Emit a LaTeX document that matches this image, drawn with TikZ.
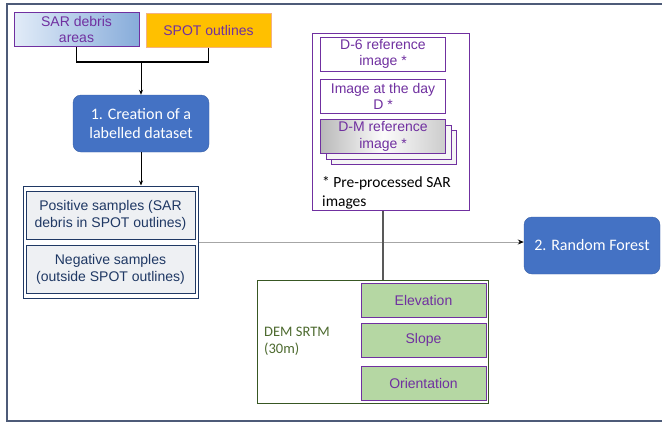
\documentclass[tikz,border=0pt]{standalone}
\usepackage{fontspec}
\setmainfont{Liberation Sans}
\newfontfamily\calibri{Carlito}
\usepackage{xcolor}
\usetikzlibrary{arrows,arrows.meta,positioning,calc}

\definecolor{frameblue}{HTML}{4D5B78}
\definecolor{boxblue}{HTML}{4472C4}
\definecolor{purp}{HTML}{7030A0}
\definecolor{spotorange}{HTML}{FFC000}
\definecolor{spotedge}{HTML}{F4B183}
\definecolor{navy}{HTML}{1F3864}
\definecolor{sampfill}{HTML}{EEF0F3}
\definecolor{demgreen}{HTML}{385723}
\definecolor{demtext}{HTML}{4E6B30}
\definecolor{leaf}{HTML}{B5D7A3}

\begin{document}
\begin{tikzpicture}[x=1pt, y=-1pt,
    src/.style={rectangle, draw=purp, line width=1pt, text=purp,
                minimum width=125pt, minimum height=34pt, align=center,
                font=\fontsize{14}{16.5}\selectfont, inner sep=2pt},
    proc/.style={rectangle, draw=boxblue!85!black, fill=boxblue,
                 rounded corners=8pt, text=white, minimum width=136pt,
                 minimum height=57pt, align=center,
                 font=\calibri\fontsize{16}{18.5}\selectfont},
    samp/.style={rectangle, draw=navy, line width=1pt, fill=sampfill,
                 text=navy, minimum width=169pt, minimum height=48pt,
                 align=center, font=\fontsize{14}{17}\selectfont, inner sep=2pt},
    grp/.style={rectangle, line width=1pt, fill=white},
    layer/.style={src, fill=gray!8},
    leafbox/.style={src, fill=leaf},
  ]
  \useasboundingbox (0,0) rectangle (662,424);

  % Frame
  \draw[frameblue, line width=2.5pt] (690,4) -- (7,4) -- (7,421) -- (690,421);

  % Inputs
  \node[src, left color={rgb,255:red,226;green,236;blue,248},
        right color={rgb,255:red,135;green,172;blue,218}] (sar) at (76.5,29.5) {SAR debris\\areas};
  \node[src, fill=spotorange, draw=spotedge] (spot) at (208.5,30) {SPOT outlines};

  % Step 1
  \node[proc] (create) at (141,123.5) {1. Creation of a\\labelled dataset};

  % Samples
  \node[grp, draw=navy, minimum width=175pt, minimum height=112pt] (samples) at (110.5,242) {};
  \node[samp] (pos) at (110.5,215) {Positive samples (SAR\\debris in SPOT outlines)};
  \node[samp] (neg) at (110.5,269) {Negative samples\\(outside SPOT outlines)};

  % SAR images
  \node[grp, draw=purp, minimum width=157pt, minimum height=177pt] (sarimg) at (390.5,121.5) {};
  \node[src] (d6) at (383,54) {D-6 reference\\image *};
  \node[src] (dday) at (383,96.5) {Image at the day\\D *};
  \node[layer] (dm2) at (394,147.5) {};
  \node[layer] (dm1) at (388.5,142) {};
  \node[src, left color=gray!55, right color=gray!40, middle color=gray!3] (dm) at (383,136.5) {D-M reference\\image *};
  \node[anchor=north west, align=left, inner sep=0pt,
        font=\calibri\fontsize{15.5}{19}\selectfont] (note) at (322,176) {* Pre-processed SAR\\images};

  % DEM
  \node[grp, draw=demgreen, minimum width=231pt, minimum height=123pt] (dem) at (372.5,341.5) {};
  \node[anchor=west, align=left, text=demtext, inner sep=0pt,
        font=\calibri\fontsize{14.5}{17}\selectfont] (demlbl) at (264,341) {DEM SRTM\\(30m)};
  \node[leafbox] (elev) at (423.5,300) {Elevation};
  \node[leafbox] (slope) at (423.5,340) {Slope};
  \node[leafbox] (orient) at (423.5,383) {Orientation};

  % Step 2
  \node[proc] (rf) at (592,245.5) {2. Random Forest};

  % Connectors
  \coordinate (mid) at (141,62);
  \draw[line width=1.3pt] (sar.south) |- (mid) -| (spot.south);
  \draw[line width=0.8pt, -{Stealth[length=5pt,width=4pt]}] (mid) -- (create.north);
  \draw[line width=0.8pt, -{Stealth[length=5pt,width=4pt]}] (create.south) -- (create.south |- samples.north);
  \draw[gray!70, line width=1pt, -{Stealth[black,length=6pt,width=5pt]}] (samples.east) -- (samples.east -| rf.west);
  \draw[black!65, line width=1.4pt] (d6.south |- sarimg.south) -- (d6.south |- dem.north);
\end{tikzpicture}
\end{document}
